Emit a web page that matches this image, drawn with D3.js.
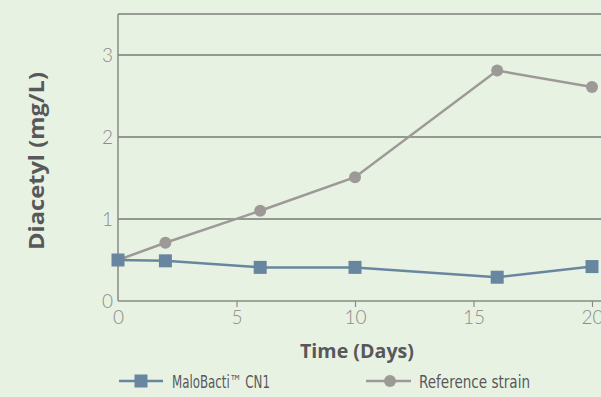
<!DOCTYPE html>
<html><head><meta charset="utf-8">
<script src="https://cdn.jsdelivr.net/npm/d3@7"></script>
<style>
html,body{margin:0;padding:0;background:#e8f2e3;}
svg{display:block;}
</style></head>
<body>
<svg id="chart" width="601" height="397"></svg>
<script>
const days = [0, 2, 6, 10, 16, 20];
const maloBacti = [0.50, 0.49, 0.41, 0.41, 0.29, 0.42];
const referenceStrain = [0.50, 0.71, 1.10, 1.51, 2.81, 2.61];
const xTicks = [0, 5, 10, 15, 20];
const yTicks = [0, 1, 2, 3];
const seriesNames = ["MaloBacti\u2122 CN1", "Reference strain"];

const svg = d3.select("#chart");
const W = 601, H = 397;
svg.append("rect").attr("width", W).attr("height", H).attr("fill", "#e8f2e3");

const x = d3.scaleLinear().domain([0, 20]).range([118, 592]);
const y = d3.scaleLinear().domain([0, 3.5]).range([301, 14]);
const blue = "#68869f", grey = "#9d9997";
const tickFont = "Lato, 'Open Sans', sans-serif";

// gridlines
svg.append("g").selectAll("line").data(yTicks.filter(d => d > 0)).join("line")
  .attr("x1", x(0)).attr("x2", W).attr("y1", d => y(d)).attr("y2", d => y(d))
  .attr("stroke", "#7a7a75").attr("stroke-width", 1.3);
// top border
svg.append("line").attr("x1", x(0)).attr("x2", W).attr("y1", y(3.5)).attr("y2", y(3.5))
  .attr("stroke", "#9a9a96").attr("stroke-width", 2);

// y axis
const yAxis = svg.append("g").attr("transform", `translate(${x(0)},0)`)
  .call(d3.axisLeft(y).tickValues(yTicks).tickSize(0).tickPadding(5).tickFormat(d3.format("d")));
yAxis.select(".domain").remove();
yAxis.append("line").attr("x1", 0).attr("x2", 0).attr("y1", y(3.5)).attr("y2", y(0))
  .attr("stroke", "#8a8a86").attr("stroke-width", 1.5);
yAxis.selectAll("text").attr("font-family", tickFont).attr("font-weight", 300)
  .attr("font-size", 19).attr("fill", "#8c8c8a").attr("dy", "0.35em");

// x axis
const xAxis = svg.append("g").attr("transform", `translate(0,${y(0)})`)
  .call(d3.axisBottom(x).tickValues(xTicks).tickSize(6).tickPadding(4).tickFormat(d3.format("d")));
xAxis.select(".domain").remove();
xAxis.append("line").attr("x1", x(0)).attr("x2", W).attr("y1", 0).attr("y2", 0)
  .attr("stroke", "#8a8a86").attr("stroke-width", 1.5);
xAxis.selectAll(".tick line").attr("stroke", "#8a8a86").attr("stroke-width", 1.2);
xAxis.selectAll(".tick").filter(d => d === 0).select("line").remove();
xAxis.selectAll("text").attr("font-family", tickFont).attr("font-weight", 300)
  .attr("font-size", 19).attr("fill", "#8c8c8a");

// axis titles
svg.append("text").attr("x", 357).attr("y", 358).attr("text-anchor", "middle")
  .attr("font-family", "'Open Sans', sans-serif").attr("font-weight", "bold").attr("font-size", 19)
  .attr("fill", "#58585a").attr("textLength", 114).attr("lengthAdjust", "spacingAndGlyphs")
  .text("Time (Days)");
svg.append("text").attr("transform", "translate(44,161) rotate(-90)").attr("text-anchor", "middle")
  .attr("font-family", "'Open Sans', sans-serif").attr("font-weight", "bold").attr("font-size", 21)
  .attr("fill", "#58585a").attr("textLength", 178).attr("lengthAdjust", "spacingAndGlyphs")
  .text("Diacetyl (mg/L)");

const line = d3.line().x(d => x(d[0])).y(d => y(d[1]));
const refData = days.map((d, i) => [d, referenceStrain[i]]);
const maloData = days.map((d, i) => [d, maloBacti[i]]);

// reference strain
svg.append("path").datum(refData).attr("d", line).attr("fill", "none")
  .attr("stroke", grey).attr("stroke-width", 2.5);
svg.append("g").selectAll("circle").data(refData).join("circle")
  .attr("cx", d => x(d[0])).attr("cy", d => y(d[1])).attr("r", 6).attr("fill", grey);

// MaloBacti
svg.append("path").datum(maloData).attr("d", line).attr("fill", "none")
  .attr("stroke", blue).attr("stroke-width", 2.5);
const sq = 13;
svg.append("g").selectAll("rect").data(maloData).join("rect")
  .attr("x", d => x(d[0]) - sq / 2).attr("y", d => y(d[1]) - sq / 2)
  .attr("width", sq).attr("height", sq).attr("fill", blue);

// legend
const legFont = "'DejaVu Sans Condensed', 'Liberation Sans Narrow', sans-serif";
const ly = 381;
const leg = svg.append("g");
leg.append("line").attr("x1", 119).attr("x2", 163).attr("y1", ly).attr("y2", ly).attr("stroke", blue).attr("stroke-width", 2.5);
leg.append("rect").attr("x", 141 - 6.5).attr("y", ly - 6.5).attr("width", 13).attr("height", 13).attr("fill", blue);
leg.append("text").attr("x", 172).attr("y", 388).attr("font-family", legFont).attr("font-size", 18)
  .attr("fill", "#58585a").attr("textLength", 98).attr("lengthAdjust", "spacingAndGlyphs").text(seriesNames[0]);
leg.append("line").attr("x1", 366).attr("x2", 411).attr("y1", ly).attr("y2", ly).attr("stroke", grey).attr("stroke-width", 2.5);
leg.append("circle").attr("cx", 390).attr("cy", ly).attr("r", 6).attr("fill", grey);
leg.append("text").attr("x", 419).attr("y", 388).attr("font-family", legFont).attr("font-size", 18)
  .attr("fill", "#58585a").attr("textLength", 111).attr("lengthAdjust", "spacingAndGlyphs").text(seriesNames[1]);
</script>
</body></html>
